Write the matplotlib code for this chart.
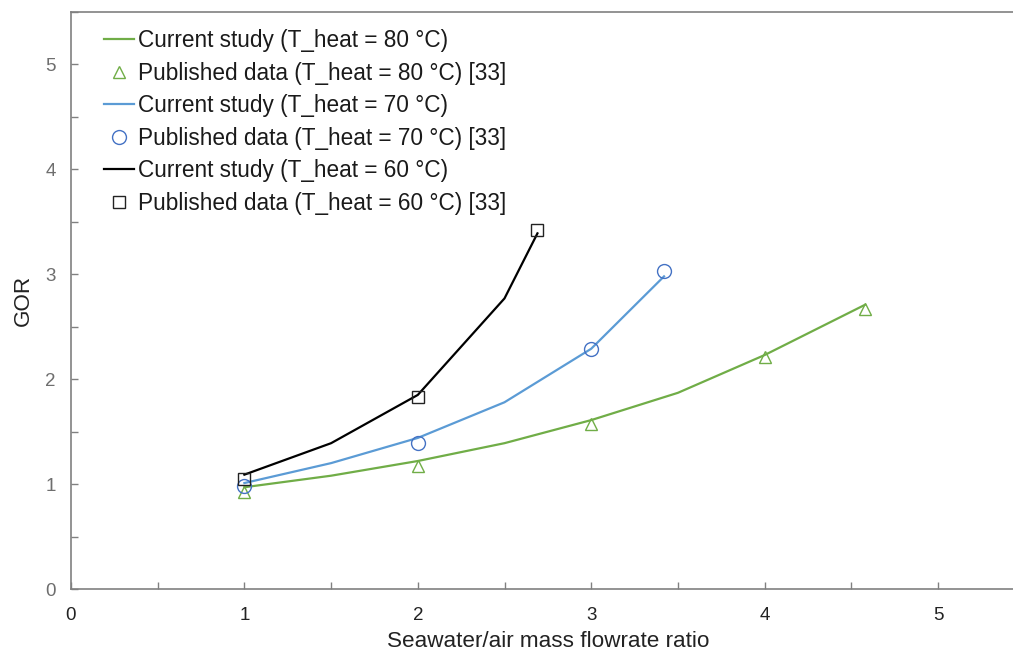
import matplotlib
matplotlib.use("Agg")
import matplotlib.pyplot as plt
from matplotlib.ticker import MultipleLocator, FuncFormatter

plt.rcParams['font.family'] = ['Liberation Sans', 'DejaVu Sans']

# Model curves (current study)
x80 = [1.0, 1.5, 2.0, 2.5, 3.0, 3.5, 4.0, 4.58]
y80 = [0.97, 1.08, 1.22, 1.39, 1.61, 1.87, 2.23, 2.71]
x70 = [1.0, 1.5, 2.0, 2.5, 3.0, 3.42]
y70 = [1.01, 1.20, 1.44, 1.78, 2.29, 2.98]
x60 = [1.0, 1.5, 2.0, 2.5, 2.69]
y60 = [1.09, 1.39, 1.85, 2.77, 3.39]

# Published data [33]
px80 = [1.0, 2.0, 3.0, 4.0, 4.58]
py80 = [0.92, 1.17, 1.57, 2.21, 2.67]
px70 = [1.0, 2.0, 3.0, 3.42]
py70 = [0.98, 1.39, 2.29, 3.03]
px60 = [1.0, 2.0, 2.69]
py60 = [1.05, 1.83, 3.42]

labels = ["Current study (T_heat = 80 °C)", "Published data (T_heat = 80 °C) [33]",
          "Current study (T_heat = 70 °C)", "Published data (T_heat = 70 °C) [33]",
          "Current study (T_heat = 60 °C)", "Published data (T_heat = 60 °C) [33]"]

green = '#70AD47'
blue = '#5B9BD5'
black = '#000000'

fig = plt.figure(figsize=(10.13, 6.5), dpi=100)
ax = fig.add_axes([71/1013, 1-589/650, 953.7/1013, 577/650])

l1, = ax.plot(x80, y80, color=green, lw=1.6)
m1, = ax.plot(px80, py80, ls='none', marker='^', ms=9, mfc='none', mec=green, mew=1.0)
l2, = ax.plot(x70, y70, color=blue, lw=1.6)
m2, = ax.plot(px70, py70, ls='none', marker='o', ms=10, mfc='none', mec='#4472C4', mew=1.0)
l3, = ax.plot(x60, y60, color=black, lw=1.6)
m3, = ax.plot(px60, py60, ls='none', marker='s', ms=9, mfc='none', mec='#222222', mew=1.0)

ax.set_xlim(0, 5.5)
ax.set_ylim(0, 5.5)
ax.xaxis.set_major_locator(MultipleLocator(0.5))
ax.yaxis.set_major_locator(MultipleLocator(0.5))
fmt = FuncFormatter(lambda v, p: f"{int(round(v))}" if abs(v - round(v)) < 1e-6 else "")
ax.xaxis.set_major_formatter(fmt)
ax.yaxis.set_major_formatter(fmt)
ax.tick_params(direction='in', length=5, width=1, color='#808080', labelsize=13.5)
ax.tick_params(axis='x', pad=13, labelcolor='#222222')
ax.tick_params(axis='y', pad=11, labelcolor='#6e6e6e')
for s in ['left', 'bottom', 'top']:
    ax.spines[s].set_color('#808080')
    ax.spines[s].set_linewidth(1.2)
ax.spines['right'].set_visible(False)

ax.set_xlabel("Seawater/air mass flowrate ratio", fontsize=16.2, color='#222222', labelpad=5)
ax.set_ylabel("GOR", fontsize=16.2, color='#222222', labelpad=8)

leg = ax.legend([l1, m1, l2, m2, l3, m3], labels, loc='upper left',
                bbox_to_anchor=(104/1013, 1-29/650), bbox_transform=fig.transFigure,
                frameon=False, fontsize=16.3, handlelength=1.33, handletextpad=0.18,
                labelspacing=0.42, borderpad=0, borderaxespad=0)
for t in leg.get_texts():
    t.set_color('#1a1a1a')

fig.savefig("out.png", dpi=100)
